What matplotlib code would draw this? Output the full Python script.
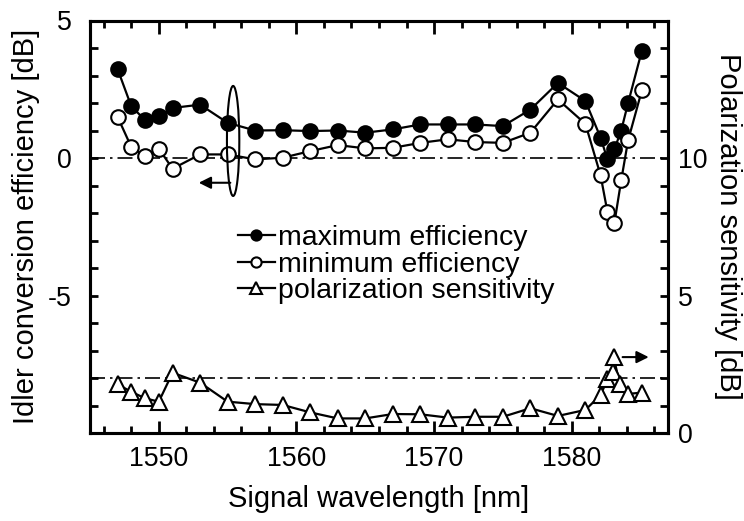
import matplotlib
matplotlib.use('Agg')
import matplotlib.pyplot as plt
from matplotlib.patches import Ellipse
from matplotlib.ticker import MultipleLocator, FixedLocator

plt.rcParams['font.family'] = ['Liberation Sans', 'DejaVu Sans']
plt.rcParams['axes.unicode_minus'] = False

# values
wl_eff = [1547, 1548, 1549, 1550, 1551, 1553, 1555, 1557, 1559, 1561, 1563,
          1565, 1567, 1569, 1571, 1573, 1575, 1577, 1579, 1581,
          1582.1, 1582.6, 1583.1, 1583.6, 1584.1, 1585.1]
max_eff = [3.24, 1.88, 1.38, 1.52, 1.82, 1.94, 1.28, 1.00, 1.01, 0.98, 1.00,
           0.92, 1.04, 1.22, 1.22, 1.22, 1.16, 1.76, 2.73, 2.07,
           0.74, -0.05, 0.31, 1.00, 2.00, 3.90]
min_eff = [1.50, 0.40, 0.07, 0.34, -0.39, 0.13, 0.13, -0.05, 0.01, 0.25, 0.47,
           0.35, 0.37, 0.55, 0.68, 0.58, 0.55, 0.92, 2.13, 1.24,
           -0.63, -1.96, -2.38, -0.81, 0.64, 2.46]

wl_pol = [1547, 1548, 1549, 1550, 1551, 1553, 1555, 1557, 1559, 1561, 1563,
          1565, 1567, 1569, 1571, 1573, 1575, 1577, 1579, 1581,
          1582.1, 1582.6, 1583.0, 1583.05, 1583.5, 1584.1, 1585.1]
pol_sens = [1.77, 1.50, 1.26, 1.14, 2.19, 1.83, 1.14, 1.05, 1.02, 0.75, 0.53,
            0.53, 0.69, 0.68, 0.56, 0.59, 0.59, 0.90, 0.62, 0.84,
            1.38, 1.95, 2.23, 2.75, 1.78, 1.42, 1.47]

labels = ['maximum efficiency', 'minimum efficiency', 'polarization sensitivity']

fig = plt.figure(figsize=(7.44, 5.21), dpi=100)
ax = fig.add_axes([90 / 744, 1 - 433 / 521, 578 / 744, 412.5 / 521])
ax2 = ax.twinx()

lw = 1.6
dashdot = (0, (9, 3, 1.5, 3))
ax.axhline(0, color='k', lw=1.2, ls=dashdot, zorder=1)
ax2.axhline(2, color='k', lw=1.2, ls=dashdot, zorder=1)

h1, = ax.plot(wl_eff, max_eff, '-o', color='k', lw=lw, ms=10.5,
              mfc='k', mec='k', mew=1.5, zorder=3)
h2, = ax.plot(wl_eff, min_eff, '-o', color='k', lw=lw, ms=10.5,
              mfc='white', mec='k', mew=1.5, zorder=3)
h3, = ax2.plot(wl_pol, pol_sens, '-^', color='k', lw=lw, ms=12,
               mfc='white', mec='k', mew=1.5, zorder=3)

ax.set_xlim(1545, 1587)
ax.set_ylim(-10, 5)
ax2.set_ylim(0, 15)

ax.xaxis.set_major_locator(MultipleLocator(10))
ax.xaxis.set_minor_locator(MultipleLocator(2))
ax.yaxis.set_major_locator(FixedLocator([-5, 0, 5]))
ax.yaxis.set_minor_locator(MultipleLocator(1))
ax2.yaxis.set_major_locator(FixedLocator([0, 5, 10]))
ax2.yaxis.set_minor_locator(MultipleLocator(1))

for a in (ax, ax2):
    for s in a.spines.values():
        s.set_linewidth(2.2)
ax.tick_params(axis='x', which='both', direction='in', top=True, labelsize=19.3, pad=9, width=2)
ax.tick_params(axis='x', which='major', length=9)
ax.tick_params(axis='x', which='minor', length=5)
ax.tick_params(axis='y', which='both', direction='in', length=6, width=2, labelsize=19.3, pad=13)
ax2.tick_params(axis='y', which='both', direction='in', length=6, width=2, labelsize=19.3, pad=7)

ax.set_xlabel('Signal wavelength [nm]', fontsize=21, labelpad=10)
ax.set_ylabel('Idler conversion efficiency [dB]', fontsize=21, labelpad=6)
ax2.set_ylabel('Polarization sensitivity [dB]', fontsize=21, rotation=270, labelpad=25)

# axis indicators
ax.add_patch(Ellipse((1555.4, 0.62), 0.9, 4.0, fill=False, ec='k', lw=1.5, zorder=4))
ax.annotate('', xy=(1552.7, -0.9), xytext=(1555.4, -0.9),
            arrowprops=dict(arrowstyle='-|>', color='k', lw=1.5, mutation_scale=18))
ax2.annotate('', xy=(1585.8, 2.76), xytext=(1583.5, 2.76),
             arrowprops=dict(arrowstyle='-|>', color='k', lw=1.5, mutation_scale=18))

leg = ax.legend([h1, h2, h3], labels, loc='upper left',
                bbox_to_anchor=(0.256, 0.504), frameon=False, fontsize=20.5,
                handlelength=1.3, handletextpad=0.12, labelspacing=0.02,
                borderpad=0, borderaxespad=0, markerscale=0.7)

fig.savefig('out.png', dpi=100)
